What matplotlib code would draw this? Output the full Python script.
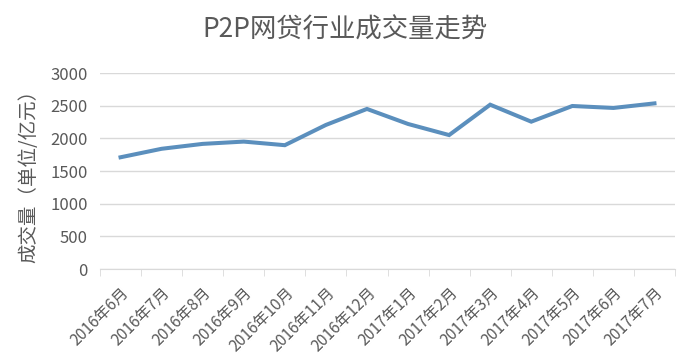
import numpy as np
import matplotlib
matplotlib.use("Agg")
import matplotlib.pyplot as plt
import matplotlib.transforms as mtransforms

plt.rcParams['font.family'] = ['Noto Sans CJK SC', 'DejaVu Sans']

# 数据
months = ['2016年6月', '2016年7月', '2016年8月', '2016年9月', '2016年10月',
          '2016年11月', '2016年12月', '2017年1月', '2017年2月', '2017年3月',
          '2017年4月', '2017年5月', '2017年6月', '2017年7月']
volume = [1710, 1840, 1915, 1950, 1895, 2205, 2450, 2220, 2050, 2515,
          2255, 2495, 2465, 2535]

fig = plt.figure(figsize=(6.94, 3.56), dpi=100)
ax = fig.add_axes([100 / 694, 87 / 356, 575 / 694, 196 / 356])

x = np.arange(len(months))
ax.plot(x, volume, color='#5b8fbd', linewidth=2.9, solid_joinstyle='miter')

ax.set_xlim(-0.5, len(months) - 0.5)
ax.set_ylim(0, 3000)
ax.set_yticks(range(0, 3001, 500))
ax.grid(axis='y', color='#d9d9d9', linewidth=1)
ax.set_axisbelow(True)

for s in ['top', 'right', 'left']:
    ax.spines[s].set_visible(False)
ax.spines['bottom'].set_color('#d9d9d9')

ax.set_xticks(x)
ax.set_xticklabels(months, rotation=45, ha='right', va='top',
                   rotation_mode='anchor', fontsize=11.3, color='#595959')
# 标签稍微右移
offset = mtransforms.ScaledTranslation(5 / 100, 0, fig.dpi_scale_trans)
for lab in ax.get_xticklabels():
    lab.set_transform(lab.get_transform() + offset)
ax.set_xticks(np.arange(-0.5, len(months)), minor=True)
ax.tick_params(axis='x', which='major', length=0, pad=11)
ax.tick_params(axis='x', which='minor', length=5, color='#d9d9d9')
ax.tick_params(axis='y', length=0, labelsize=12, labelcolor='#595959', pad=9)

ax.set_ylabel('成交量（单位/亿元）', fontsize=14, color='#595959', labelpad=8)

fig.text(0.497, 1 - 30 / 356, 'P2P网贷行业成交量走势', ha='center', va='center',
         fontsize=19, color='#595959')

fig.savefig('out.png', dpi=100, facecolor='white')
